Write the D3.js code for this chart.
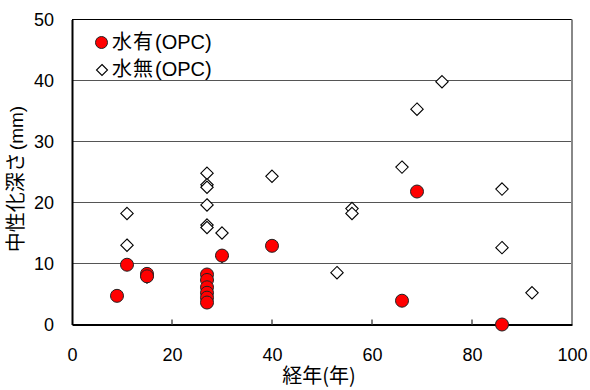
<!DOCTYPE html>
<html>
<head>
<meta charset="utf-8">
<script src="https://cdn.jsdelivr.net/npm/d3@7"></script>
<style>
  html, body { margin: 0; padding: 0; background: #fff; }
  svg text { font-family: "Liberation Sans", Arial, sans-serif; fill: #000; }
  svg .cjk { font-family: "Noto Sans CJK JP", sans-serif; }
</style>
</head>
<body>
<svg id="chart" width="590" height="390"></svg>
<script>
// 水有(OPC): years elapsed and carbonation depth (mm)
const wetYears = [9, 11, 15, 15, 27, 27, 27, 27, 27, 27, 30, 40, 66, 69, 86];
const wetDepth = [4.7, 9.8, 8.3, 7.9, 8.2, 7.3, 6.1, 5.2, 4.4, 3.6, 11.3, 12.9, 3.9, 21.8, 0];

// 水無(OPC)
const dryYears = [11, 11, 15, 27, 27, 27, 27, 27, 27, 30, 30, 40, 53, 56, 56, 66, 69, 74, 86, 86, 92];
const dryDepth = [18.2, 13.0, 7.8, 24.8, 22.9, 22.5, 19.6, 16.3, 15.9, 15.0, 11.2, 24.3, 8.5, 19.0, 18.2, 25.8, 35.3, 39.8, 22.2, 12.6, 5.2];

const xTicks = [0, 20, 40, 60, 80, 100];
const yTicks = [0, 10, 20, 30, 40, 50];
const seriesNames = [["水有", "(OPC)"], ["水無", "(OPC)"]];
const xTitle = ["経年", "(", "年", ")"];
const yTitle = ["中性化深さ", "(mm)"];

const svg = d3.select("#chart");
const plotLeft = 72, plotRight = 572, plotTop = 19.5, plotBottom = 324.5;

const x = d3.scaleLinear().domain([0, 100]).range([plotLeft, plotRight]);
const y = d3.scaleLinear().domain([0, 50]).range([plotBottom, plotTop]);

// horizontal gridlines
svg.append("g").selectAll("line").data(yTicks.filter(d => d > 0 && d < 50)).join("line")
  .attr("x1", plotLeft).attr("x2", plotRight)
  .attr("y1", d => y(d)).attr("y2", d => y(d))
  .attr("stroke", "#555").attr("stroke-width", 1.2);

// frame: top black, right gray
svg.append("line").attr("x1", plotLeft).attr("x2", plotRight).attr("y1", plotTop).attr("y2", plotTop)
  .attr("stroke", "#000").attr("stroke-width", 1.2);
svg.append("line").attr("x1", plotRight).attr("x2", plotRight).attr("y1", plotTop).attr("y2", plotBottom)
  .attr("stroke", "#888").attr("stroke-width", 2);

// y axis
const yAxis = svg.append("g").attr("transform", `translate(${plotLeft},0)`)
  .call(d3.axisLeft(y).tickValues(yTicks).tickSize(0).tickPadding(18).tickFormat(d3.format("d")));
yAxis.select(".domain").attr("stroke", "#000").attr("stroke-width", 2);
yAxis.selectAll("text").attr("font-size", 18);

// x axis with inward ticks
const xAxis = svg.append("g").attr("transform", `translate(0,${plotBottom})`)
  .call(d3.axisBottom(x).tickValues(xTicks).tickSize(0).tickPadding(24).tickFormat(d3.format("d")));
xAxis.select(".domain").attr("stroke", "#000").attr("stroke-width", 2);
xAxis.selectAll("text").attr("font-size", 18);
svg.append("g").selectAll("line").data(xTicks.filter(d => d > 0 && d < 100)).join("line")
  .attr("x1", d => x(d)).attr("x2", d => x(d))
  .attr("y1", plotBottom).attr("y2", plotBottom - 5)
  .attr("stroke", "#555").attr("stroke-width", 1.5);

// diamonds
const diamond = r => `M0,${-r}L${r},0L0,${r}L${-r},0Z`;
svg.append("g").selectAll("path").data(d3.range(dryYears.length)).join("path")
  .attr("transform", i => `translate(${x(dryYears[i])},${y(dryDepth[i])})`)
  .attr("d", diamond(6.2))
  .attr("fill", "#fff").attr("stroke", "#000").attr("stroke-width", 1.1);

// circles
svg.append("g").selectAll("circle").data(d3.range(wetYears.length)).join("circle")
  .attr("cx", i => x(wetYears[i])).attr("cy", i => y(wetDepth[i]))
  .attr("r", 6.5)
  .attr("fill", "#ff0000").attr("stroke", "#222").attr("stroke-width", 1);

// legend
const lg = svg.append("g");
lg.append("circle").attr("cx", 101.5).attr("cy", 42.5).attr("r", 6).attr("fill", "#ff0000").attr("stroke", "#222");
lg.append("path").attr("transform", "translate(102,70)").attr("d", diamond(5.5))
  .attr("fill", "#fff").attr("stroke", "#000").attr("stroke-width", 1.1);
seriesNames.forEach((nm, i) => {
  const t = lg.append("text").attr("x", 112).attr("y", 49 + i * 27);
  t.append("tspan").attr("class", "cjk").attr("font-size", 20).attr("letter-spacing", 1).text(nm[0]);
  t.append("tspan").attr("font-size", 20).attr("dx", 1).text(nm[1]);
});

// axis titles
const xt = svg.append("text").attr("x", 319).attr("y", 383).attr("text-anchor", "middle")
  .attr("class", "cjk").attr("font-size", 20);
xTitle.forEach(s => xt.append("tspan").text(s));

const yt = svg.append("text").attr("transform", "translate(23,179) rotate(-90)")
  .attr("text-anchor", "middle");
yt.append("tspan").attr("class", "cjk").attr("font-size", 20).text(yTitle[0]);
yt.append("tspan").attr("font-size", 19).attr("dx", 2).text(yTitle[1]);
</script>
</body>
</html>
